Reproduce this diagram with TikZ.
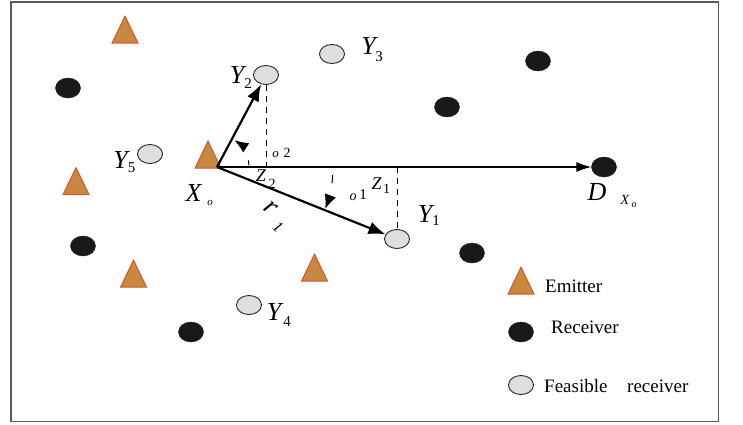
\documentclass[tikz,border=0pt]{standalone}
\usepackage{fontspec}
\setmainfont{Liberation Serif}
\usetikzlibrary{shapes.geometric,arrows.meta}
\definecolor{emitfill}{RGB}{200,136,64}
\definecolor{emitline}{RGB}{212,84,44}
\definecolor{feasfill}{RGB}{221,222,224}
\definecolor{recvfill}{RGB}{25,25,25}
\definecolor{framecol}{RGB}{90,90,90}
\begin{document}
\begin{tikzpicture}[x=1pt,y=-1pt,
  emitter/.style={isosceles triangle, isosceles triangle stretches, shape border rotate=90,
    minimum width=26pt, minimum height=27pt, inner sep=0pt, draw=emitline, fill=emitfill, line width=1pt},
  receiver/.style={ellipse, minimum width=25pt, minimum height=20pt, inner sep=0pt, fill=recvfill, draw=recvfill},
  feasible/.style={ellipse, minimum width=25pt, minimum height=19pt, inner sep=0pt, fill=feasfill, draw=black!85, line width=0.9pt},
  biglab/.style={inner sep=0pt, font=\fontsize{26}{26}\selectfont\itshape},
  sublab/.style={inner sep=0pt, font=\fontsize{15}{15}\selectfont},
  zlab/.style={inner sep=0pt, font=\fontsize{18}{18}\selectfont\itshape},
  smalllab/.style={inner sep=0pt, font=\fontsize{14}{14}\selectfont},
  legtext/.style={inner sep=0pt, anchor=base west, font=\fontsize{19}{19}\selectfont},
  vec/.style={line width=2.2pt, -{Latex[length=17pt,width=13pt]}},
  hvec/.style={line width=1.3pt, -{Latex[length=15pt,width=10pt]}},
  proj/.style={line width=1pt, dash pattern=on 6pt off 5pt},
  angarc/.style={line width=1pt}
]
\useasboundingbox (0,0) rectangle (743,424);
\draw[framecol, line width=1.5pt] (11,2) rectangle (718.5,421.5);

% emitters
\node[emitter] (e1) at (125,35) {};
\node[emitter] (eX) at (208,160) {};
\node[emitter] (e3) at (76,186.5) {};
\node[emitter] (e4) at (133.5,279) {};
\node[emitter] (e5) at (314.5,273) {};
\node[emitter] (eL) at (521,286) {};

% receivers
\node[receiver] (r1) at (68,88) {};
\node[receiver] (r2) at (538,61) {};
\node[receiver] (r3) at (447,107) {};
\node[receiver] (D) at (604,167) {};
\node[receiver] (r5) at (83,246) {};
\node[receiver] (r6) at (472,253) {};
\node[receiver] (r7) at (191,332) {};
\node[receiver] (rL) at (521,332) {};

% feasible receivers
\node[feasible] (Y3) at (332,54) {};
\node[feasible] (Y2) at (266,75) {};
\node[feasible] (Y5) at (150,154) {};
\node[feasible] (Y1) at (397,239) {};
\node[feasible] (Y4) at (249,305) {};
\node[feasible] (fL) at (521,385) {};

% geometry
\coordinate (xo) at (217,167);
\coordinate (z2) at (Y2.south |- xo);
\coordinate (z1) at (Y1.north |- xo);
\draw[proj] (Y2.south) -- (z2);
\draw[proj] (z1) -- (Y1.north);
\draw[hvec] (xo) -- (D.west);
\draw[vec] (xo) -- (Y2);
\draw[vec] (xo) -- (Y1);

% angle arcs
\draw[angarc, dash pattern=on 5pt off 12pt, -{Latex[length=14pt,width=11pt]}]
  (xo) ++(-3:32) arc[start angle=-3, end angle=-57, radius=32];
\draw[angarc, dash pattern=on 8pt off 30pt, -{Latex[length=14pt,width=12pt]}]
  (xo) ++(4:116) arc[start angle=4, end angle=21, radius=116];

% labels
\node[biglab] (lY2) at (237,74.5) {Y};
\node[sublab] (sY2) at (248,84) {2};
\node[biglab] (lY3) at (368.5,46) {Y};
\node[sublab] (sY3) at (379,57) {3};
\node[biglab] (lY5) at (120.5,160) {Y};
\node[sublab] (sY5) at (131.5,168) {5};
\node[biglab] (lY1) at (425,214) {Y};
\node[sublab] (sY1) at (436,221) {1};
\node[biglab] (lY4) at (274,312) {Y};
\node[sublab] (sY4) at (287,322) {4};
\node[biglab] (lX) at (193.5,192.5) {X};
\node[inner sep=0pt, font=\fontsize{11}{11}\selectfont\itshape] (sX) at (210,203) {o};
\node[biglab] (lD) at (597,192) {D};
\node[inner sep=0pt, font=\fontsize{14}{14}\selectfont\itshape] (sDX) at (625,200) {X};
\node[inner sep=0pt, font=\fontsize{10}{10}\selectfont\itshape] (sDo) at (634,205) {o};

\node[zlab] (lZ2) at (261,176) {Z};
\node[smalllab] (sZ2) at (272,184) {2};
\node[zlab] (lZ1) at (376.5,184) {Z};
\node[smalllab] (sZ1) at (386.5,189) {1};
\node[inner sep=0pt, font=\fontsize{13}{13}\selectfont\itshape] (o2a) at (275.5,154.5) {o};
\node[inner sep=0pt, font=\fontsize{14}{14}\selectfont] (o2b) at (287,153) {2};
\node[inner sep=0pt, font=\fontsize{14}{14}\selectfont\itshape] (o1a) at (353,197) {o};
\node[inner sep=0pt, font=\fontsize{15}{15}\selectfont] (o1b) at (363,195) {1};
\node[inner sep=0pt, rotate=-40, font=\fontsize{27}{27}\selectfont\itshape] (lr1) at (271,208) {r};
\node[inner sep=0pt, rotate=-40, font=\fontsize{16}{16}\selectfont\itshape] (sr1) at (278,227) {1};

% legend
\node[legtext] (tE) at (545,292) {Emitter};
\node[legtext] (tR) at (551,333) {Receiver};
\node[legtext] (tF1) at (544,392) {Feasible};
\node[legtext] (tF2) at (627,392) {receiver};
\end{tikzpicture}
\end{document}
